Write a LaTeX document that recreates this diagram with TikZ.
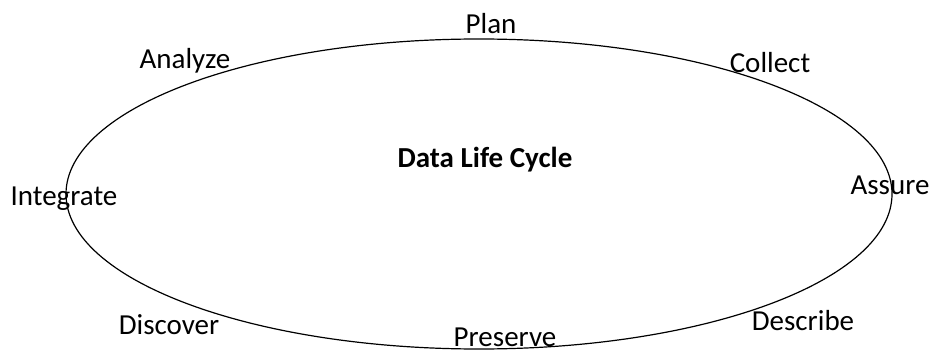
\documentclass[tikz,border=0pt]{standalone}
\usepackage{fontspec}
\setmainfont{Carlito}
\begin{document}
\begin{tikzpicture}[x=1pt,y=1pt,
  stage/.style={anchor=base,inner sep=0pt,font=\fontsize{29}{34}\selectfont},
  title/.style={anchor=base,inner sep=0pt,font=\fontsize{29}{34}\selectfont\bfseries}]
\useasboundingbox (0,0) rectangle (933,351);
% the cycle
\draw[line width=1.2pt] (479,157) ellipse [x radius=413, y radius=155];
\node[title] (t) at (485,183) {Data Life Cycle};
% stages around the cycle
\node[stage] (plan) at (491,317) {Plan};
\node[stage] (collect) at (770,278) {Collect};
\node[stage] (assure) at (890,157) {Assure};
\node[stage] (describe) at (803,21) {Describe};
\node[stage] (preserve) at (505,5) {Preserve};
\node[stage] (discover) at (169,17) {Discover};
\node[stage] (integrate) at (64,146) {Integrate};
\node[stage] (analyze) at (185,282) {Analyze};
\end{tikzpicture}
\end{document}
